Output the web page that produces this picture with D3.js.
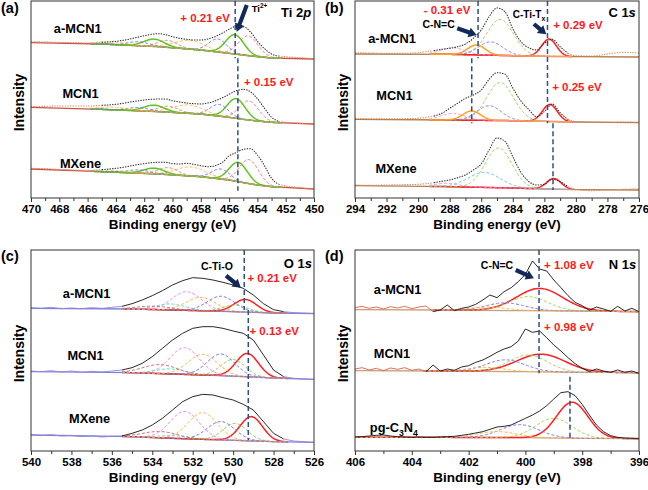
<!DOCTYPE html>
<html>
<head>
<meta charset="utf-8">
<script src="https://cdn.jsdelivr.net/npm/d3@7"></script>
<style>
  body { margin: 0; background: #fff; }
  svg { display: block; font-family: "Liberation Sans", Arial, sans-serif; }
</style>
</head>
<body>
<svg id="chart" width="648" height="490"></svg>
<script>
// ---------- (a) Ti 2p ----------
const tiTicks = [470, 468, 466, 464, 462, 460, 458, 456, 454, 452, 450];
const tiEnergy = [470, 469, 468, 467, 466, 465, 464, 463.5, 463, 462.5, 462, 461.5, 461, 460.5, 460, 459.5, 459, 458.5, 458, 457.5, 457, 456.5, 456, 455.5, 455, 454.5, 454, 453.5, 453, 452.5, 452, 451, 450];
const tiAMCN1 = [469, 468, 467, 466, 465, 467, 470, 473, 477, 482, 487, 491, 493, 490, 484, 479, 476, 474, 474, 477, 484, 494, 506, 515, 514, 499, 470, 448, 432, 426, 424, 421, 418];
const tiMCN1 = [274, 275, 276, 276, 276, 278, 281, 284, 288, 291, 294, 296, 297, 297, 292, 288, 285, 283, 282, 285, 291, 300, 311, 322, 326, 319, 298, 269, 242, 230, 227, 224, 221];
const tiMXene = [89, 88, 86, 84, 83, 85, 89, 92, 96, 100, 103, 106, 107, 107, 103, 102, 104, 101, 97, 94, 97, 106, 126, 136, 146, 148, 129, 97, 59, 41, 36, 31, 26];
const tiBgEnergy = [470, 465, 461, 458, 456, 455, 454, 453, 450];
const tiBgAMCN1 = [466, 462, 454, 444, 434, 429, 424, 420, 417];
const tiBgMCN1 = [272, 266, 259, 252, 242, 236, 231, 227, 222];
const tiBgMXene = [87, 79, 72, 64, 54, 46, 39, 34, 27];
// [centre eV, height, FWHM eV, component]
const tiPeaksAMCN1 = [[454.65, 59, 1.6, 'Ti-C'], [455.6, 58, 1.5, 'Ti2+'], [456.8, 39, 1.5, 'Ti3+'], [458.8, 26, 2.5, 'TiO2'],
                      [460.35, 21, 1.6, 'Ti-C'], [461.3, 22, 1.7, 'Ti2+'], [462.4, 12, 1.8, 'Ti3+'], [464.3, 8, 2.5, 'TiO2']];
const tiPeaksMCN1 = [[454.6, 57, 1.6, 'Ti-C'], [455.5, 59, 1.5, 'Ti2+'], [456.7, 35, 1.5, 'Ti3+'], [458.9, 25, 2.5, 'TiO2'],
                     [460.3, 18, 1.6, 'Ti-C'], [461.3, 19, 1.7, 'Ti2+'], [462.4, 10, 1.8, 'Ti3+'], [464.2, 8, 2.5, 'TiO2']];
const tiPeaksMXene = [[454.6, 72, 1.6, 'Ti-C'], [455.35, 58, 1.5, 'Ti2+'], [456.6, 30, 1.5, 'Ti3+'], [458.7, 27, 2.5, 'TiO2'],
                      [460.3, 21, 1.6, 'Ti-C'], [461.3, 17, 1.7, 'Ti2+'], [462.4, 10, 1.8, 'Ti3+'], [464.2, 5, 2.5, 'TiO2']];
const tiRefLines = [[455.57, 591, 419], [455.38, 419, 22]];

// ---------- (b) C 1s ----------
const cTicks = [294, 292, 290, 288, 286, 284, 282, 280, 278, 276];
const cEnergy = [294, 293, 292, 291, 290, 289.5, 289, 288.5, 288, 287.5, 287, 286.5, 286, 285.5, 285, 284.5, 284, 283.5, 283, 282.5, 282, 281.5, 281, 280.5, 280, 279, 278, 277, 276];
const cAMCN1 = [436, 435, 434, 434, 436, 439, 442, 446, 449, 454, 462, 479, 504, 544, 570, 559, 508, 470, 451, 444, 464, 476, 454, 434, 427, 426, 432, 437, 435];
const cMCN1 = [239, 238, 238, 238, 239, 242, 246, 254, 269, 284, 299, 309, 324, 356, 376, 372, 330, 292, 266, 244, 259, 282, 256, 236, 229, 227, 227, 228, 228];
const cMXene = [39, 38, 39, 40, 41, 43, 46, 50, 54, 61, 69, 84, 102, 144, 180, 170, 124, 78, 50, 39, 41, 56, 49, 34, 26, 22, 24, 26, 27];
const cBgEnergy = [294, 288, 286, 284, 282, 280, 276];
const cBgAMCN1 = [432, 431, 429, 427, 425, 424, 423];
const cBgMCN1 = [236, 234, 233, 232, 230, 228, 226];
const cBgMXene = [37, 34, 32, 30, 27, 25, 24];
const cPeaksAMCN1 = [[281.7, 52, 1.1, 'C-Ti-Tx'], [284.8, 108, 2.0, 'C-C'], [285.4, 40, 1.8, 'C-O'], [286.3, 30, 1.3, 'C-N=C'], [287.8, 20, 1.8, 'O-C=O']];
const cPeaksMCN1 = [[281.65, 51, 1.1, 'C-Ti-Tx'], [284.8, 114, 2.0, 'C-C'], [285.5, 44, 1.8, 'C-O'], [286.6, 28, 1.3, 'C-N=C'], [287.8, 20, 1.8, 'O-C=O']];
const cPeaksMXene = [[281.4, 32, 1.1, 'C-Ti-Tx'], [284.9, 119, 2.0, 'C-C'], [285.8, 45, 2.4, 'C-Ox'], [288.2, 10, 1.8, 'O-C=O']];
const cRefLines = [[286.2, 591, 419], [286.6, 419, 224], [281.8, 591, 224], [281.45, 224, 24]];

// ---------- (c) O 1s ----------
const oTicks = [540, 538, 536, 534, 532, 530, 528, 526];
const oEnergy = [540, 539.5, 539, 538.5, 538, 537.5, 537, 536.5, 536, 535.5, 535, 534.5, 534, 533.5, 533, 532.5, 532, 531.5, 531, 530.5, 530, 529.5, 529, 528.5, 528, 527.5, 527, 526.5, 526];
const oAMCN1 = [430, 428, 431, 427, 429, 427, 430, 428, 431, 434, 442, 453, 466, 481, 498, 511, 520, 518, 513, 506, 498, 488, 468, 442, 424, 418, 415, 414, 413];
const oMCN1 = [240, 238, 241, 237, 240, 236, 239, 237, 240, 243, 250, 263, 283, 308, 333, 353, 368, 373, 373, 368, 360, 353, 333, 288, 243, 223, 218, 216, 215];
const oMXene = [50, 46, 49, 45, 47, 43, 45, 42, 44, 45, 53, 63, 78, 98, 123, 148, 163, 170, 168, 160, 153, 140, 123, 88, 53, 36, 30, 28, 26];
const oBgEnergy = [540, 535, 533, 531, 529, 528, 526];
const oBgAMCN1 = [428, 426, 423, 420, 416, 414, 412];
const oBgMCN1 = [238, 235, 231, 227, 222, 219, 215];
const oBgMXene = [48, 43, 38, 34, 30, 28, 26];
const oPeaksAMCN1 = [[529.4, 38, 1.3, 'Ti-O'], [529.9, 20, 1.4, 'O-Ti-C'], [530.6, 45, 1.6, 'C-Ti-Ox'], [531.6, 40, 1.7, 'C-Ti-OH'],
                     [532.3, 56, 1.7, 'H2O'], [533.1, 18, 1.7, 'C-O'], [533.9, 10, 2.0, 'O-C=O']];
const oPeaksMCN1 = [[529.3, 70, 1.3, 'Ti-O'], [530.0, 50, 1.4, 'O-Ti-C'], [530.6, 65, 1.6, 'C-Ti-Ox'], [531.5, 62, 1.7, 'C-Ti-OH'],
                    [532.4, 80, 1.7, 'H2O'], [533.1, 15, 1.7, 'C-O'], [533.6, 27, 2.0, 'O-C=O']];
const oPeaksMXene = [[529.1, 73, 1.3, 'Ti-O'], [529.9, 51, 1.4, 'O-Ti-C'], [530.6, 55, 1.6, 'C-Ti-Ox'], [531.5, 80, 1.7, 'C-Ti-OH'],
                     [532.4, 82, 1.7, 'H2O'], [533.0, 8, 1.7, 'C-O'], [533.6, 19, 2.0, 'O-C=O']];
const oRefLines = [[529.45, 603, 423], [529.25, 423, 33]];

// ---------- (d) N 1s ----------
const nTicks = [406, 404, 402, 400, 398, 396];
const nEnergy = [406, 405.75, 405.5, 405.25, 405, 404.75, 404.5, 404.25, 404, 403.75, 403.5, 403.25, 403, 402.75, 402.5, 402.25, 402, 401.75, 401.5, 401.25, 401, 400.75, 400.5, 400.25, 400, 399.75, 399.5, 399.25, 399, 398.75, 398.5, 398.25, 398, 397.75, 397.5, 397.25, 397, 396.75, 396.5, 396.25, 396];
const nAMCN1 = [430, 434, 428, 432, 426, 433, 429, 434, 427, 432, 435, 418, 423, 438, 421, 428, 432, 440, 453, 468, 460, 478, 490, 508, 530, 570, 546, 540, 513, 490, 466, 446, 436, 422, 432, 426, 419, 434, 420, 428, 418];
const nMCN1 = [246, 250, 243, 248, 241, 249, 245, 250, 242, 246, 238, 258, 240, 246, 242, 252, 256, 266, 273, 284, 296, 306, 313, 330, 366, 356, 360, 340, 318, 300, 280, 262, 248, 238, 246, 240, 236, 243, 236, 240, 233];
const nPgC3N4 = [42, 43, 45, 47, 48, 45, 43, 42, 41, 42, 41, 41, 42, 43, 44, 47, 50, 54, 58, 65, 72, 74, 78, 88, 98, 108, 120, 136, 156, 175, 178, 166, 140, 108, 78, 58, 46, 41, 39, 38, 38];
const nBgEnergy = [406, 403, 400, 398, 396];
const nBgAMCN1 = [424, 423, 421, 420, 418];
const nBgMCN1 = [241, 240, 238, 236, 235];
const nBgPgC3N4 = [41, 41, 40, 38, 37];
const nPeaksAMCN1 = [[399.5, 67, 1.9, 'C-N=C'], [399.9, 42, 1.6, 'N-(C)3'], [400.7, 23, 1.6, 'C-N-H'], [401.3, 10, 1.5, 'pi']];
const nPeaksMCN1 = [[399.45, 53, 2.0, 'C-N=C'], [399.9, 50, 1.6, 'N-(C)3'], [400.7, 35, 1.6, 'C-N-H'], [401.4, 12, 1.5, 'pi']];
const nPeaksPgC3N4 = [[398.35, 108, 1.3, 'C-N=C'], [399.0, 59, 1.5, 'N-(C)3'], [400.2, 39, 1.6, 'C-N-H'], [401.0, 18, 1.6, 'pi']];
const nRefLines = [[399.52, 603, 233], [398.43, 223, 33]];

// ---------- drawing ----------
const svg = d3.select('#chart');
const FONT = '"Liberation Sans", Arial, sans-serif';
const navy = '#12295a';
const red = '#ff1a1a';

function gauss(e, p) {
  return p[1] * Math.exp(-4 * Math.LN2 * (e - p[0]) * (e - p[0]) / (p[2] * p[2]));
}

function rich(g, px, py, parts, size, anchor, fill) {
  const t = g.append('text')
    .attr('x', px).attr('y', py)
    .attr('text-anchor', anchor)
    .attr('font-size', size)
    .attr('font-weight', 'bold')
    .attr('fill', fill || '#000');
  let shift = 0;
  parts.forEach(([s, k]) => {
    const ts = t.append('tspan').text(s);
    let target = 0;
    if (k === 'sub') { ts.attr('font-size', size * 0.68); target = size * 0.3; }
    if (k === 'sup') { ts.attr('font-size', size * 0.68); target = -size * 0.4; }
    if (k === 'i') ts.attr('font-style', 'italic');
    if (target !== shift) { ts.attr('dy', target - shift); shift = target; }
  });
  return t;
}

function arrow(g, x1, y1, x2, y2) {
  const dx = x2 - x1, dy = y2 - y1, len = Math.hypot(dx, dy);
  const ux = dx / len, uy = dy / len;
  const head = 8, hw = 5;
  const bx = x2 - ux * head, by = y2 - uy * head;
  g.append('line')
    .attr('x1', x1).attr('y1', y1).attr('x2', bx + ux).attr('y2', by + uy)
    .attr('stroke', navy).attr('stroke-width', 4.2);
  g.append('path')
    .attr('d', `M${x2},${y2}L${bx - uy * hw},${by + ux * hw}L${bx + uy * hw},${by - ux * hw}Z`)
    .attr('fill', navy);
}

function drawPanel(cfg) {
  const g = svg.append('g');
  const ticks = cfg.ticks;
  const x = d3.scaleLinear().domain([ticks[0], ticks[ticks.length - 1]]).range([cfg.left, cfg.right]);
  const y = d3.scaleLinear().domain([0, cfg.vTop]).range([cfg.bottom, cfg.top]);

  // minor ticks (every 1 eV) and labelled major ticks
  const minor = d3.range(ticks[ticks.length - 1] + 1, ticks[0], 2);
  g.append('g')
    .attr('transform', `translate(0,${cfg.bottom})`)
    .call(d3.axisBottom(x).tickValues(minor).tickFormat('').tickSize(3))
    .call(a => a.select('.domain').remove())
    .call(a => a.selectAll('line').attr('stroke', '#333'));

  const ax = g.append('g')
    .attr('transform', `translate(0,${cfg.bottom})`)
    .call(d3.axisBottom(x).tickValues(ticks).tickFormat(d3.format('d')).tickSize(4).tickPadding(3));
  ax.select('.domain').remove();
  ax.selectAll('line').attr('stroke', '#333');
  ax.selectAll('text')
    .style('font-family', FONT).style('font-size', '11.5px').style('font-weight', 'bold').attr('fill', '#000');

  const line = d3.line().x(d => x(d[0])).y(d => y(d[1]));
  const smooth = d3.line().x(d => x(d[0])).y(d => y(d[1])).curve(d3.curveMonotoneX);
  const dataLine = cfg.smoothData ? smooth : line;

  cfg.spectra.forEach(s => {
    const bg = d3.scaleLinear().domain(cfg.bgEnergy).range(s.bg);

    // background
    g.append('path')
      .datum(cfg.bgEnergy.map((e, i) => [e, s.bg[i]]))
      .attr('d', line)
      .attr('fill', 'none')
      .attr('stroke', cfg.bgColor)
      .attr('stroke-width', 1.3);

    // fitted components
    s.peaks.forEach(p => {
      const st = cfg.styles[p[3]];
      const pts = d3.range(s.win[1], s.win[0] - 0.001, -0.04).map(e => [e, bg(e) + gauss(e, p)]);
      g.append('path')
        .datum(pts)
        .attr('d', line)
        .attr('fill', 'none')
        .attr('stroke', st.c)
        .attr('stroke-width', st.dash ? 1 : 1.5)
        .attr('stroke-dasharray', st.dash ? '3,2' : null);
    });

    // measured data: black inside the fit window, coloured outside it
    const pts = cfg.energy.map((e, i) => [e, s.values[i]]);
    let i0 = pts.findIndex(p => p[0] <= s.win[1]);
    let i1 = pts.length - 1;
    while (i1 > 0 && pts[i1][0] < s.win[0]) i1--;
    const parts = [
      [pts.slice(0, i0 + 1), cfg.outColor],
      [pts.slice(i0, i1 + 1), cfg.dotted ? '#2a2a2a' : '#111'],
      [pts.slice(i1), cfg.outColor]
    ];
    parts.forEach(([seg, col]) => {
      if (seg.length < 2) return;
      g.append('path')
        .datum(seg)
        .attr('d', dataLine)
        .attr('fill', 'none')
        .attr('stroke', col)
        .attr('stroke-width', cfg.dotted ? 1.05 : 0.9)
        .attr('stroke-dasharray', cfg.dotted ? '1.4,1.2' : null);
    });
  });

  // reference lines
  cfg.refLines.forEach(r => {
    g.append('line')
      .attr('x1', x(r[0])).attr('x2', x(r[0]))
      .attr('y1', y(r[1])).attr('y2', y(r[2]))
      .attr('stroke', '#2f4d8a')
      .attr('stroke-width', 1.5)
      .attr('stroke-dasharray', '5,3');
  });

  // frame
  g.append('rect')
    .attr('x', cfg.left).attr('y', cfg.top)
    .attr('width', cfg.right - cfg.left).attr('height', cfg.bottom - cfg.top)
    .attr('fill', 'none').attr('stroke', '#333').attr('stroke-width', 1);

  // text annotations
  cfg.labels.forEach(l => {
    rich(g, x(l.e), y(l.v), l.parts, l.size, l.anchor || 'middle', l.fill);
  });
  cfg.arrows.forEach(a => arrow(g, x(a[0]), y(a[1]), x(a[2]), y(a[3])));

  // axis titles
  g.append('text')
    .attr('x', (cfg.left + cfg.right) / 2).attr('y', cfg.bottom + 31)
    .attr('text-anchor', 'middle')
    .attr('font-size', 13.5).attr('font-weight', 'bold')
    .text('Binding energy (eV)');
  g.append('text')
    .attr('transform', `translate(${cfg.left - 7},${(cfg.top + cfg.bottom) / 2 + 3}) rotate(-90)`)
    .attr('text-anchor', 'middle')
    .attr('font-size', 14).attr('font-weight', 'bold')
    .text('Intensity');
  g.append('text')
    .attr('x', cfg.left - 30).attr('y', Math.max(cfg.top + 11, 13))
    .attr('font-size', 14.5).attr('font-weight', 'bold')
    .text(cfg.letter);
}

const sample = (t, e, v) => ({ parts: [[t, '']], e, v, size: 12.8 });
const shiftLabel = (t, e, v) => ({ parts: [[t, '']], e, v, size: 11.5, fill: red });

drawPanel({
  letter: '(a)', left: 31, right: 314, top: 1, bottom: 198, vTop: 591,
  ticks: tiTicks, energy: tiEnergy, bgEnergy: tiBgEnergy,
  dotted: true, smoothData: true, bgColor: '#c9553f', outColor: '#e8877a',
  styles: {
    'Ti-C': { c: '#ff6e6e', dash: true }, 'Ti2+': { c: '#5fc41e', dash: false },
    'Ti3+': { c: '#6d6dff', dash: true }, 'TiO2': { c: '#ffb347', dash: true }
  },
  spectra: [
    { values: tiAMCN1, bg: tiBgAMCN1, peaks: tiPeaksAMCN1, win: [452.3, 465.8] },
    { values: tiMCN1, bg: tiBgMCN1, peaks: tiPeaksMCN1, win: [452.3, 465.8] },
    { values: tiMXene, bg: tiBgMXene, peaks: tiPeaksMXene, win: [452.3, 465.8] }
  ],
  refLines: tiRefLines,
  labels: [
    sample('a-MCN1', 466.7, 495), sample('MCN1', 466.5, 300), sample('MXene', 466.5, 90),
    shiftLabel('+ 0.21 eV', 457.7, 528), shiftLabel('+ 0.15 eV', 453.2, 336),
    { parts: [['Ti', ''], ['2+', 'sup']], e: 454.4, v: 558, size: 9.5, anchor: 'start' },
    { parts: [['Ti 2', ''], ['p', 'i']], e: 450.2, v: 543, size: 13, anchor: 'end' }
  ],
  arrows: [[454.75, 579, 455.46, 499]]
});

drawPanel({
  letter: '(b)', left: 355, right: 639, top: 1, bottom: 198, vTop: 591,
  ticks: cTicks, energy: cEnergy, bgEnergy: cBgEnergy,
  dotted: true, smoothData: true, bgColor: '#b97a45', outColor: '#c99466',
  styles: {
    'C-Ti-Tx': { c: '#ff1f1f', dash: false }, 'C-C': { c: '#93d452', dash: true },
    'C-O': { c: '#7878ff', dash: true }, 'C-N=C': { c: '#ffa21a', dash: false },
    'O-C=O': { c: '#f08cf0', dash: true }, 'C-Ox': { c: '#5ec9c9', dash: true }
  },
  spectra: [
    { values: cAMCN1, bg: cBgAMCN1, peaks: cPeaksAMCN1, win: [280.2, 289.3] },
    { values: cMCN1, bg: cBgMCN1, peaks: cPeaksMCN1, win: [280.2, 289.3] },
    { values: cMXene, bg: cBgMXene, peaks: cPeaksMXene, win: [280.2, 289.3] }
  ],
  refLines: cRefLines,
  labels: [
    sample('a-MCN1', 291.65, 465), sample('MCN1', 291.5, 294), sample('MXene', 291.4, 75),
    shiftLabel('- 0.31 eV', 288.17, 552), shiftLabel('+ 0.29 eV', 279.87, 507), shiftLabel('+ 0.25 eV', 279.93, 321),
    { parts: [['C-N=C', '']], e: 288.7, v: 510, size: 10.5 },
    { parts: [['C-Ti-T', ''], ['x', 'sub']], e: 282.97, v: 540, size: 10 },
    { parts: [['C 1', ''], ['s', 'i']], e: 276.2, v: 543, size: 13, anchor: 'end' }
  ],
  arrows: [[287.52, 509, 286.29, 489], [282.66, 522, 281.88, 491]]
});

drawPanel({
  letter: '(c)', left: 31, right: 314, top: 250, bottom: 451, vTop: 603,
  ticks: oTicks, energy: oEnergy, bgEnergy: oBgEnergy,
  dotted: false, smoothData: false, bgColor: '#8080d8', outColor: '#8f86d8',
  styles: {
    'Ti-O': { c: '#ff1f1f', dash: false }, 'O-Ti-C': { c: '#80d040', dash: true },
    'C-Ti-Ox': { c: '#6a6aff', dash: true }, 'C-Ti-OH': { c: '#ffae42', dash: true },
    'H2O': { c: '#ee82ee', dash: true }, 'C-O': { c: '#5fd3d3', dash: true }, 'O-C=O': { c: '#d46060', dash: true }
  },
  spectra: [
    { values: oAMCN1, bg: oBgAMCN1, peaks: oPeaksAMCN1, win: [527.3, 535.5] },
    { values: oMCN1, bg: oBgMCN1, peaks: oPeaksMCN1, win: [527.3, 535.5] },
    { values: oMXene, bg: oBgMXene, peaks: oPeaksMXene, win: [527.3, 535.5] }
  ],
  refLines: oRefLines,
  labels: [
    sample('a-MCN1', 537.25, 459), sample('MCN1', 537.3, 273), sample('MXene', 537.1, 84),
    shiftLabel('+ 0.21 eV', 528.07, 507), shiftLabel('+ 0.13 eV', 527.97, 348),
    { parts: [['C-Ti-O', '']], e: 530.8, v: 543, size: 10.5 },
    { parts: [['O 1', ''], ['s', 'i']], e: 526.1, v: 549, size: 13, anchor: 'end' }
  ],
  arrows: [[530.35, 526, 529.62, 490]]
});

drawPanel({
  letter: '(d)', left: 355, right: 639, top: 250, bottom: 451, vTop: 603,
  ticks: nTicks, energy: nEnergy, bgEnergy: nBgEnergy,
  dotted: false, smoothData: false, bgColor: '#caa17c', outColor: '#dd5f48',
  styles: {
    'C-N=C': { c: '#ff1f1f', dash: false }, 'N-(C)3': { c: '#9ad957', dash: true },
    'C-N-H': { c: '#7777ff', dash: true }, 'pi': { c: '#ffb347', dash: true }
  },
  spectra: [
    { values: nAMCN1, bg: nBgAMCN1, peaks: nPeaksAMCN1, win: [396, 403.3] },
    { values: nMCN1, bg: nBgMCN1, peaks: nPeaksMCN1, win: [396, 403.6] },
    { values: nPgC3N4, bg: nBgPgC3N4, peaks: nPeaksPgC3N4, win: [396, 406] }
  ],
  refLines: nRefLines,
  labels: [
    sample('a-MCN1', 404.5, 471), sample('MCN1', 404.7, 279),
    { parts: [['pg-C', ''], ['3', 'sub'], ['N', ''], ['4', 'sub']], e: 404.63, v: 57, size: 12.8 },
    shiftLabel('+ 1.08 eV', 398.47, 546), shiftLabel('+ 0.98 eV', 398.47, 360),
    { parts: [['C-N=C', '']], e: 401.0, v: 546, size: 10.5 },
    { parts: [['N 1', ''], ['s', 'i']], e: 396.1, v: 546, size: 13, anchor: 'end' }
  ],
  arrows: [[400.34, 543, 399.7, 518]]
});

svg.selectAll('text').style('font-family', FONT);
</script>
</body>
</html>
